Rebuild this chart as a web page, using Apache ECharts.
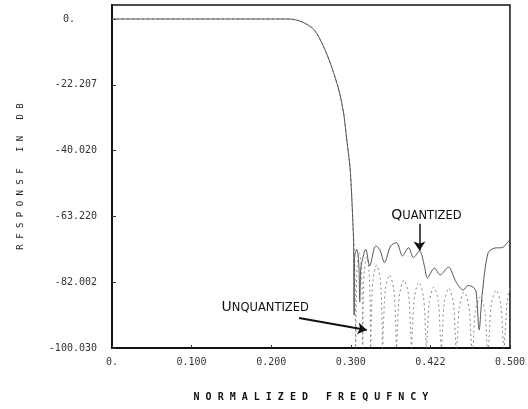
<!DOCTYPE html>
<html>
<head>
<meta charset="utf-8">
<script src="https://cdn.jsdelivr.net/npm/echarts@6/dist/echarts.min.js"></script>
<style>
  html, body { margin: 0; padding: 0; background: #fff; }
  #chart { width: 528px; height: 409px; }
</style>
</head>
<body>
<div id="chart"></div>
<script>
// tick labels as printed on the plot
const freqLabels = ["0.", "0.100", "0.200", "0.300", "0.422", "0.500"];
const dbTicks = [-100, -80, -60, -40, -20, 0];
const dbLabels = ["-100.030", "-82.002", "-63.220", "-40.020", "-22.207", "0."];

// [normalized frequency, dB]
const quantized = [
  [0, 0], [0.1, 0], [0.2, 0], [0.2225, 0], [0.239, -0.9], [0.254, -3.3], [0.266, -8.5],
  [0.276, -14.6], [0.285, -21.6], [0.291, -28.6], [0.295, -36.8], [0.299, -45], [0.301, -52.9],
  [0.3025, -61], [0.3035, -68], [0.3042, -90], [0.305, -72], [0.3075, -70], [0.31, -74],
  [0.3113, -86], [0.3125, -76], [0.3138, -74], [0.3188, -70], [0.3238, -75], [0.3313, -69],
  [0.3363, -70], [0.3425, -74], [0.35, -69], [0.3575, -68], [0.365, -72], [0.3725, -69.5],
  [0.3788, -72.5], [0.3863, -70.5], [0.3925, -75], [0.3963, -78.7], [0.405, -75.7], [0.4125, -77.8],
  [0.4225, -75.4], [0.4325, -80], [0.4413, -82.4], [0.4475, -81], [0.4538, -81.5], [0.4575, -83],
  [0.4613, -94.5], [0.465, -84], [0.4725, -71.1], [0.4813, -69.6], [0.49, -69.5], [0.4975, -67.8],
  [0.5, -67]
];

const unquantized = [
  [0, 0], [0.1, 0], [0.2, 0], [0.2225, 0], [0.239, -0.9], [0.254, -3.3], [0.266, -8.5],
  [0.276, -14.6], [0.285, -21.6], [0.291, -28.6], [0.295, -36.8], [0.299, -45], [0.301, -52.9],
  [0.3025, -61], [0.304, -68], [0.3055, -82], [0.30625, -100],
  [0.3068, -86], [0.308, -75.4], [0.3106, -71], [0.3133, -75.4], [0.3145, -86], [0.315, -100],
  [0.3156, -87.3], [0.317, -76.7], [0.32, -72.3], [0.323, -76.7], [0.3244, -87.3], [0.325, -100],
  [0.3259, -89.8], [0.328, -79.2], [0.3325, -74.8], [0.337, -79.2], [0.3391, -89.8], [0.34, -100],
  [0.3411, -92.8], [0.3435, -82.2], [0.3488, -77.8], [0.354, -82.2], [0.3565, -92.8], [0.3575, -100],
  [0.3586, -94.3], [0.3613, -83.7], [0.3669, -79.3], [0.3725, -83.7], [0.3751, -94.3], [0.3763, -100],
  [0.3774, -95], [0.38, -84.4], [0.3856, -80], [0.3913, -84.4], [0.3939, -95], [0.395, -100],
  [0.3961, -96.5], [0.3988, -85.9], [0.4044, -81.5], [0.41, -85.9], [0.4126, -96.5], [0.4138, -100],
  [0.4149, -96.8], [0.4175, -86.2], [0.4231, -81.8], [0.4288, -86.2], [0.4314, -96.8], [0.4325, -100],
  [0.4337, -98], [0.4365, -87.4], [0.4425, -83], [0.4485, -87.4], [0.4513, -98], [0.4525, -100],
  [0.4537, -99.5], [0.4565, -88.9], [0.4625, -84.5], [0.4685, -88.9], [0.4713, -99.5], [0.4725, -100],
  [0.4737, -97.4], [0.4765, -86.8], [0.4825, -82.4], [0.4885, -86.8], [0.4913, -97.4], [0.4925, -100],
  [0.4937, -96.5], [0.4965, -85.9], [0.5, -81.8]
];

// annotations (data coordinates)
const quantNote = { text: "QUANTIZED", at: [0.395, -59.6], arrowFrom: [0.3863, -62.2], arrowTo: [0.3863, -70.4] };
const unquantNote = { text: "UNQUANTIZED", at: [0.1925, -87.5], arrowFrom: [0.235, -90.9], arrowTo: [0.32, -94.5] };

const xTitle = "N O R M A L I Z E D   F R E Q U F N C Y";
const yTitle = "R F S P O N S F   I N   D B";

const chart = echarts.init(document.getElementById("chart"));

const monoFont = "DejaVu Sans Mono";
const noteFont = "DejaVu Sans";

const getOption = () => {
  return {
    animation: false,
    backgroundColor: "#fff",
    grid: {
      left: 112,
      right: 16,
      top: 5,
      bottom: 61,
      show: true,
      borderColor: "#111",
      borderWidth: 1.5,
    },
    xAxis: {
      type: "value",
      min: 0,
      max: 0.5,
      interval: 0.1,
      name: xTitle,
      nameLocation: "middle",
      nameGap: 44,
      nameTextStyle: { fontFamily: monoFont, fontWeight: "bold", fontSize: 10, color: "#111" },
      axisLine: { show: true, onZero: false, lineStyle: { color: "#111", width: 2 } },
      axisTick: { show: true, inside: true, length: 3, lineStyle: { color: "#333" } },
      axisLabel: {
        margin: 9,
        fontFamily: monoFont,
        fontSize: 10,
        color: "#333",
        formatter: (v) => freqLabels[Math.round(v * 10)],
      },
      splitLine: { show: false },
    },
    yAxis: {
      type: "value",
      min: -100,
      max: 4.26,
      name: yTitle,
      nameLocation: "middle",
      nameRotate: 90,
      nameGap: 87,
      nameTextStyle: { fontFamily: monoFont, fontSize: 9, color: "#222" },
      axisLine: { show: true, onZero: false, lineStyle: { color: "#111", width: 2 } },
      axisTick: { show: true, inside: true, length: 4, customValues: dbTicks, lineStyle: { color: "#333" } },
      axisLabel: {
        margin: 15,
        fontFamily: monoFont,
        fontSize: 10,
        color: "#333",
        customValues: dbTicks,
        formatter: (v) => {
          const i = dbTicks.indexOf(Math.round(v));
          return i === dbTicks.length - 1 ? "{z|" + dbLabels[i] + "}" : dbLabels[i];
        },
        rich: {
          z: { fontFamily: monoFont, fontSize: 10, color: "#333", padding: [0, 22, 0, 0] },
        },
      },
      splitLine: { show: false },
    },
    series: [
      {
        name: "Unquantized",
        type: "line",
        data: unquantized,
        showSymbol: false,
        smooth: 0.3,
        lineStyle: { color: "#888", width: 1, type: [2, 3] },
        markLine: {
          silent: true,
          symbol: ["none", "arrow"],
          symbolSize: 9,
          label: { show: false },
          lineStyle: { type: "solid", color: "#111", width: 1.5 },
          data: [
            [
              { coord: quantNote.arrowFrom },
              { coord: quantNote.arrowTo },
            ],
            [
              { coord: unquantNote.arrowFrom, lineStyle: { width: 2 } },
              { coord: unquantNote.arrowTo },
            ],
          ],
        },
      },
      {
        name: "Quantized",
        type: "line",
        data: quantized,
        showSymbol: false,
        smooth: 0.3,
        lineStyle: { color: "#555", width: 1 },
        markPoint: {
          silent: true,
          symbol: "circle",
          symbolSize: 0,
          label: {
            show: true,
            position: "inside",
            formatter: (p) => "{big|" + p.name[0] + "}{small|" + p.name.slice(1) + "}",
            rich: {
              big: { fontFamily: noteFont, fontSize: 14, color: "#111", verticalAlign: "bottom" },
              small: { fontFamily: noteFont, fontSize: 11.5, color: "#111", verticalAlign: "bottom" },
            },
          },
          data: [
            { name: quantNote.text, coord: quantNote.at },
            { name: unquantNote.text, coord: unquantNote.at },
          ],
        },
      },
    ],
  };
};

chart.setOption(getOption());
</script>
</body>
</html>
